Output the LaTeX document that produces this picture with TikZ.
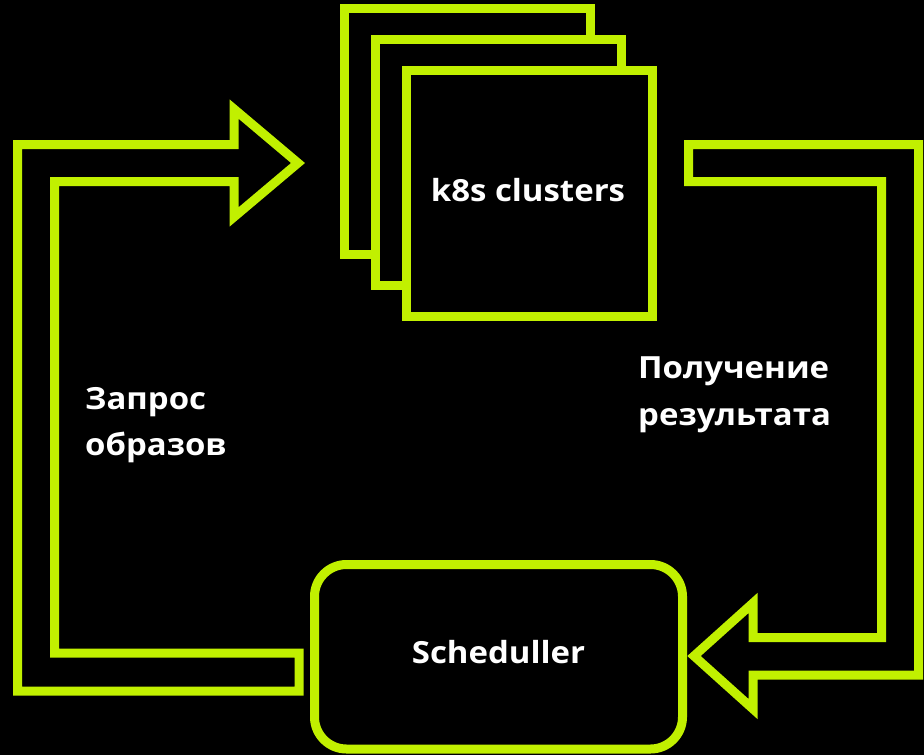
\documentclass[tikz,border=0pt]{standalone}
\usepackage{fontspec}
\setmainfont{Open Sans}[FakeStretch=1.08]
\definecolor{lime}{RGB}{193,240,0}
\begin{document}
\begin{tikzpicture}[x=1pt,y=-1pt,
  outline/.style={draw=lime, line width=9pt, line join=miter, miter limit=10},
  card/.style={outline, fill=black, rectangle, minimum width=246pt, minimum height=246pt, inner sep=0pt},
  boxnode/.style={outline, fill=black, rectangle, rounded corners=32pt, minimum width=368pt, minimum height=184.5pt, inner sep=0pt},
  title/.style={text=white, font=\fontsize{30.5}{36}\selectfont\bfseries, inner sep=0pt}]
  % canvas
  \fill[black] (0,0) rectangle (924,755);
  \useasboundingbox (0,0) rectangle (924,755);

  % stacked cluster cards
  \node[card] (back) at (467.75,131.5) {};
  \node[card] (mid) at (498.75,162.75) {};
  \node[card] (front) at (529.5,193.5) {};
  \node[title, anchor=base] (k8s) at (528,201) {k8s clusters};

  % scheduler
  \node[boxnode] (sched) at (498.5,656.75) {};
  \node[title, anchor=base] (schedtext) at (sched.center |- 0,663) {Scheduller};

  % hollow arrow: scheduler -> clusters
  \draw[outline] (17.5,144.5) -- (234,144.5) -- (234,109) -- (298,163)
    -- (234,217) -- (234,181.5) -- (54.5,181.5) -- (54.5,653)
    -- (299,653) -- (299,691) -- (17.5,691) -- cycle;

  % hollow arrow: clusters -> scheduler
  \draw[outline] (688.5,144.5) -- (918.5,144.5) -- (918.5,675) -- (753,675)
    -- (753,709) -- (694,656) -- (753,603) -- (753,637.5)
    -- (881.5,637.5) -- (881.5,181.5) -- (688.5,181.5) -- cycle;

  % arrow labels
  \node[title, anchor=base west] (req1) at (85,409) {Запрос};
  \node[title, anchor=base west] (req2) at (85,455) {образов};
  \node[title, anchor=base west] (res1) at (638,378) {Получение};
  \node[title, anchor=base west] (res2) at (638,425) {результата};
\end{tikzpicture}
\end{document}
